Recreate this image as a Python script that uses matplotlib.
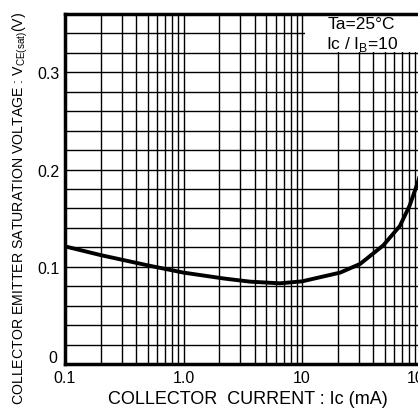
import matplotlib
matplotlib.use("Agg")
import matplotlib.pyplot as plt
from matplotlib.ticker import MultipleLocator, FixedLocator, LogLocator, NullFormatter
from matplotlib.patches import Rectangle

plt.rcParams['font.family'] = ['Liberation Sans', 'DejaVu Sans']

# curve: Ic (mA) vs VCE(sat) (V)
ic_ma = [0.1, 0.2, 0.52, 1.0, 2.17, 3.64, 6.5, 10, 21, 31, 48.5, 67, 81, 95, 105]
vce_sat = [0.121, 0.112, 0.101, 0.094, 0.088, 0.0847, 0.083, 0.085, 0.094, 0.103, 0.122, 0.142, 0.163, 0.187, 0.205]

x_ticks = [0.1, 1, 10, 100]
x_labels = ["0.1", "1.0", "10", "100"]
y_ticks = [0, 0.1, 0.2, 0.3]
y_labels = ["", "0.1", "0.2", "0.3"]

W, H = 418, 414
fig = plt.figure(figsize=(W / 100, H / 100), dpi=100)
ax = fig.add_axes([65 / W, (H - 365) / H, 474 / W, 350 / H])

ax.set_xscale('log')
ax.set_xlim(0.1, 1000)
ax.set_ylim(0, 0.36)

ax.xaxis.set_major_locator(FixedLocator(x_ticks))
ax.set_xticklabels(x_labels)
ax.xaxis.set_minor_locator(LogLocator(base=10, subs=range(2, 10), numticks=20))
ax.xaxis.set_minor_formatter(NullFormatter())
ax.yaxis.set_major_locator(FixedLocator(y_ticks))
ax.set_yticklabels(y_labels)
ax.yaxis.set_minor_locator(MultipleLocator(0.02))

ax.grid(True, which='both', color='black', linewidth=1.0)
ax.tick_params(which='both', length=0, labelsize=11.5, pad=4)

for s in ax.spines.values():
    s.set_linewidth(2.5)

ax.plot(ic_ma, vce_sat, color='black', linewidth=2.8, zorder=3)

# the "0" of the y axis sits a bit higher, clear of the "0.1" below it
fig.text(53 / W, 1 - 359 / H, "0", ha='center', va='center', fontsize=11.5)

# white box for the conditions text
ax.add_patch(Rectangle((10.5, 0.321), 1000, 0.05, facecolor='white', edgecolor='none', zorder=2.5))
ax.text(32, 0.350, "Ta=25°C", ha='center', va='center', fontsize=12.5, zorder=4)
ax.text(32, 0.330, "Ic / I$_\\mathregular{B}$=10", ha='center', va='center', fontsize=12.5, zorder=4)

fig.text(248 / W, 1 - 400 / H, "COLLECTOR  CURRENT : Ic (mA)", ha='center', va='center', fontsize=13)
fig.text(20 / W, 1 - 208 / H, "COLLECTOR EMITTER SATURATION VOLTAGE : V$_\\mathregular{CE(sat)}$(V)",
         ha='center', va='center', rotation=90, fontsize=10.2)

fig.savefig("out.png", dpi=100)
